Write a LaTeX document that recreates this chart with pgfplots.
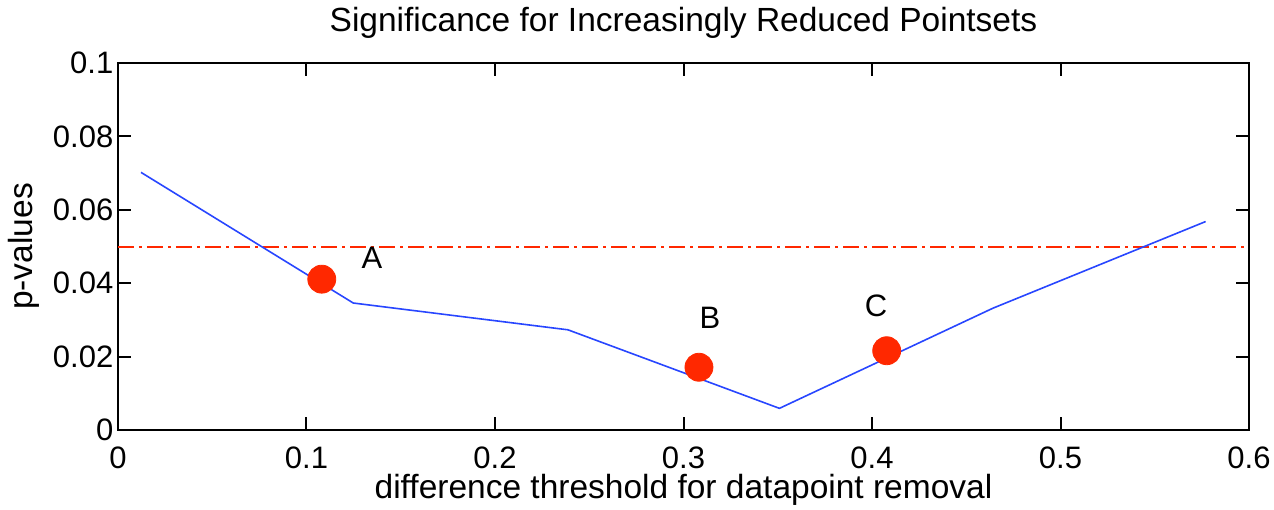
\documentclass[border=0pt]{standalone}
\usepackage{fontspec}
\setmainfont{Liberation Sans}
\usepackage{pgfplots}
\pgfplotsset{compat=1.18}
\definecolor{mblue}{RGB}{40,70,255}
\definecolor{mred}{RGB}{255,40,0}
\begin{document}
\fontsize{15.5}{18}\selectfont
\begin{tikzpicture}
\begin{axis}[
  name=ax,
  scale only axis,
  width=565.5pt, height=183.5pt,
  xmin=0, xmax=0.6, ymin=0, ymax=0.1,
  xtick={0,0.1,0.2,0.3,0.4,0.5,0.6},
  ytick={0,0.02,0.04,0.06,0.08,0.1},
  xticklabels={0,0.1,0.2,0.3,0.4,0.5,0.6},
  yticklabels={0,0.02,0.04,0.06,0.08,0.1},
  /pgf/number format/assume math mode=true,
  tick align=inside,
  major tick length=6.5pt,
  axis line style={line width=1pt},
  every tick/.style={black, line width=1pt},
  ticklabel style={font=\fontsize{15.5}{18}\selectfont},
  xticklabel style={inner sep=0pt, yshift=-8.2pt},
  yticklabel style={xshift=3pt},
  every axis title shift=0pt,
  title={Significance for Increasingly Reduced Pointsets},
  title style={at={(axis description cs:0.5,1)}, anchor=base, yshift=15.5pt, font=\fontsize{16.75}{20}\selectfont},
  xlabel={difference threshold for datapoint removal},
  xlabel style={at={(axis description cs:0.5,0)}, anchor=base, inner sep=0pt, yshift=-34pt, font=\fontsize{16.75}{20}\selectfont},
  ylabel={p-values},
  ylabel style={at={(axis description cs:0,0.5)}, anchor=center, yshift=47pt, font=\fontsize{16.75}{20}\selectfont},
  clip=false,
]
\addplot[mred, line width=1pt, dash pattern=on 8pt off 2.5pt on 1.5pt off 2.5pt] coordinates {(0,0.05) (0.6,0.05)};
\addplot[mblue, line width=0.8pt] coordinates {
  (0.0122,0.0702) (0.1248,0.0346) (0.2387,0.0273) (0.3509,0.0059) (0.4642,0.0332) (0.5770,0.0568)};
\addplot[only marks, mark=*, mark size=7pt, mred, mark options={draw=mred, fill=mred}] coordinates {
  (0.1081,0.0411) (0.3082,0.0171) (0.4078,0.0216)};
\node[font=\fontsize{15.5}{18}\selectfont] at (axis cs:0.1347,0.0469) {A};
\node[font=\fontsize{15.5}{18}\selectfont] at (axis cs:0.3141,0.0306) {B};
\node[font=\fontsize{15.5}{18}\selectfont] at (axis cs:0.4021,0.0338) {C};
\end{axis}
\pgfresetboundingbox
\path (ax.south west) ++(-59pt,-39.5pt) rectangle ++(637pt,254.5pt);
\end{tikzpicture}
\end{document}
